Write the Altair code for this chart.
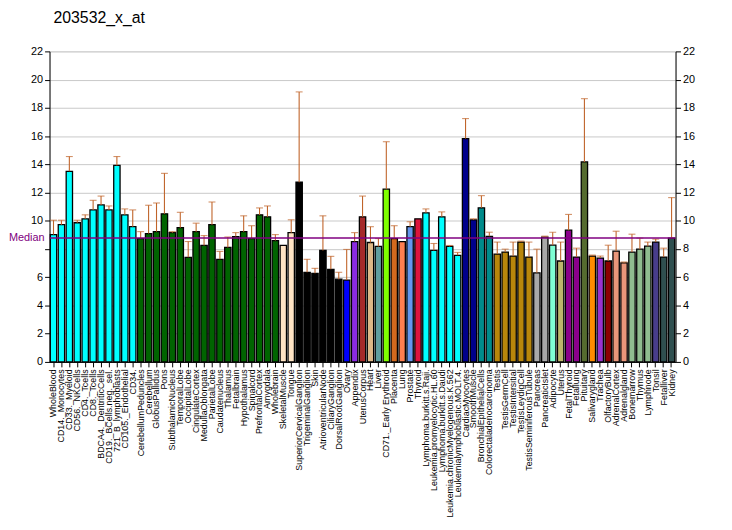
import altair as alt
import pandas as pd

names = ["WholeBlood", "CD14._Monocytes", "CD33._Myeloid", "CD56._NKCells", "CD4._Tcells",
         "CD8._Tcells", "BDCA4._DentriticCells", "CD19._BCells.neg._sel.", "721_B_lymphoblasts",
         "CD105._Endothelial", "CD34.", "CerebellumPeduncles", "Cerebellum", "GlobusPallidus",
         "Pons", "SubthalamicNucleus", "TemporalLobe", "OccipitalLobe", "CingulateCortex",
         "MedullaOblongata", "ParietalLobe", "Caudatenucleus", "Thalamus", "Fetalbrain",
         "Hypothalamus", "Spinalcord", "PrefrontalCortex", "Amygdala", "Wholebrain",
         "SkeletalMuscle", "Tongue", "SuperiorCervicalGanglion", "TrigeminalGanglion", "Skin",
         "AtrioventricularNode", "CiliaryGanglion", "DorsalRootGanglion", "Ovary", "Appendix",
         "UterusCorpus", "Heart", "Liver", "CD71._Early Erythroid", "Placenta", "Lung",
         "Prostate", "Thyroid", "Lymphoma.burkitt.s.Raji.", "Leukemia.promyelocytic.HL.60",
         "Lymphoma.burkitt.s.Daudi", "Leukemia.chronicMyelogenous.K.562",
         "Leukemialymphoblastic.MOLT.4.", "CardiacMyocytes", "SmoothMuscle",
         "BronchialEpithelialCells", "Colorectaladenocarcinoma", "Testis", "TestisGermCell",
         "TestisIntersitial", "TestisLeydigCell", "TestisSeminiferousTubule", "Pancreas",
         "PancreaticIslet", "Adipocyte", "Uterus", "FetalThyroid", "Fetallung", "Pituitary",
         "Salivarygland", "Trachea", "OlfactoryBulb", "AdrenalCortex", "Adrenalgland",
         "Bonemarrow", "Thymus", "Lymphnode", "Tonsil", "Fetalliver", "Kidney"]

values = [9.02, 9.72, 13.5, 9.86, 10.14, 10.77, 11.12, 10.77, 13.92, 10.42,
          9.58, 8.74, 9.09, 9.23, 10.49, 9.16, 9.51, 7.41, 9.23, 8.25,
          9.72, 7.27, 8.11, 8.88, 9.23, 8.74, 10.42, 10.28, 8.6, 8.25,
          9.16, 12.73, 6.35, 6.28, 7.9, 6.56, 5.86, 5.8, 8.53, 10.28,
          8.46, 8.18, 12.24, 8.74, 8.53, 9.58, 10.14, 10.56, 7.9, 10.28,
          8.18, 7.55, 15.82, 10.07, 10.92, 8.9, 7.64, 7.78, 7.5, 8.49,
          7.43, 6.31, 8.84, 8.27, 7.15, 9.33, 7.43, 14.17, 7.5, 7.36,
          7.15, 7.85, 7.01, 7.78, 7.99, 8.2, 8.49, 7.43, 8.77]

upper = [10.04, 10.04, 14.55, 10.04, 10.42, 11.45, 11.75, 11.05, 14.55, 10.84,
         10.77, 9.23, 11.1, 11.26, 13.36, 9.23, 10.6, 8.53, 9.83, 8.95,
         11.33, 7.83, 8.85, 9.16, 10.35, 9.65, 10.91, 11.05, 9.02, 8.25,
         10.07, 19.13, 7.27, 6.63, 10.35, 7.48, 6.35, 7.97, 9.16, 11.75,
         9.58, 8.74, 15.6, 9.65, 8.53, 9.93, 10.14, 10.84, 8.39, 10.63,
         8.25, 7.76, 17.24, 10.14, 11.78, 9.19, 8.49, 7.99, 8.49, 8.56,
         8.49, 7.99, 8.91, 9.19, 8.49, 10.45, 8.06, 18.65, 7.57, 7.5,
         8.27, 9.26, 7.08, 9.05, 8.77, 8.49, 8.7, 8.06, 11.64]

colors = (["#00FFFF"] * 11 + ["#006400"] * 18 + ["#FFE4C4"] * 2 + ["#000000"] * 6 +
          ["#0000FF", "#8A2BE2", "#A52A2A", "#DEB887", "#5F9EA0", "#7FFF00", "#D2691E",
           "#FF7F50", "#6495ED", "#DC143C"] +
          ["#00FFFF"] * 5 + ["#00008B"] * 2 + ["#008B8B"] * 2 + ["#B8860B"] * 5 +
          ["#A9A9A9"] * 2 + ["#7FFFD4", "#BDB76B", "#8B008B", "#8B008B", "#556B2F",
                             "#FF8C00", "#9932CC", "#8B0000", "#E9967A", "#E9967A"] +
          ["#8FBC8F"] * 3 + ["#483D8B", "#2F4F4F", "#2F4F4F"])

median = 8.78
y_ticks = [0, 2, 4, 6, 8, 10, 12, 14, 16, 18, 20, 22]

FONT = "Liberation Sans"
ERR = "#C0642A"

df = pd.DataFrame({"tissue": names, "value": values, "upper": upper, "color": colors})
err = df[df["upper"] > df["value"] + 0.01]
med = pd.DataFrame({"median": [median], "label": ["Median"]})

xscale = alt.Scale(domain=names, paddingInner=0.2, paddingOuter=0.1)
yscale = alt.Scale(domain=[0, 22], nice=False)

x_axis = alt.Axis(title=None, labelAngle=-90, labelFontSize=9, labelFont=FONT,
                  labelColor="black", tickColor="black", domainColor="black",
                  tickSize=5, labelPadding=2, labelLimit=0, labelBaseline="middle")

bars = alt.Chart(df).mark_bar(stroke="black", strokeWidth=1.3).encode(
    x=alt.X("tissue:N", scale=xscale, axis=x_axis),
    y=alt.Y("value:Q", scale=yscale,
            axis=alt.Axis(title=None, values=y_ticks, grid=True, gridColor="#c8c8c8",
                          labelExpr="datum.value == 8 ? '' : datum.label",
                          labelFont=FONT, labelFontSize=11, labelColor="black",
                          tickColor="black", domainColor="black", tickSize=5,
                          labelPadding=2)),
    color=alt.Color("color:N", scale=None),
)

err_rule = alt.Chart(err).mark_rule(color=ERR, strokeWidth=1.1).encode(
    x=alt.X("tissue:N", scale=xscale, axis=x_axis),
    y=alt.Y("value:Q", scale=yscale, axis=None),
    y2="upper:Q",
)
err_cap = alt.Chart(err).mark_tick(color=ERR, size=7, thickness=1.1).encode(
    x=alt.X("tissue:N", scale=xscale, axis=x_axis),
    y=alt.Y("upper:Q", scale=yscale, axis=None),
)

med_rule = alt.Chart(med).mark_rule(color="#800080", strokeWidth=1.3).encode(
    y=alt.Y("median:Q", scale=yscale,
            axis=alt.Axis(title=None, orient="right", values=y_ticks, grid=False,
                          labelFont=FONT, labelFontSize=11, labelColor="black",
                          tickColor="black", domainColor="black", tickSize=5,
                          labelPadding=2)),
)
med_text = alt.Chart(med).mark_text(color="#800080", align="right", baseline="middle",
                                    font=FONT, fontSize=11, dx=-5).encode(
    x=alt.value(0),
    y=alt.Y("median:Q", scale=yscale, axis=None),
    text="label:N",
)

chart = alt.layer(bars, err_rule, err_cap, med_rule, med_text).resolve_axis(
    y="independent"
).properties(
    width=633, height=314,
    title=alt.TitleParams("203532_x_at", anchor="start", frame="group", fontSize=16,
                          font=FONT, fontWeight="normal", color="black", dx=4, offset=20),
    autosize=alt.AutoSizeParams(type="none"),
    padding={"left": 42, "top": 41, "right": 49, "bottom": 160},
).configure_view(stroke=None).configure(background="white")

chart.save("out.html", embed_options={"renderer": "svg", "actions": False})
